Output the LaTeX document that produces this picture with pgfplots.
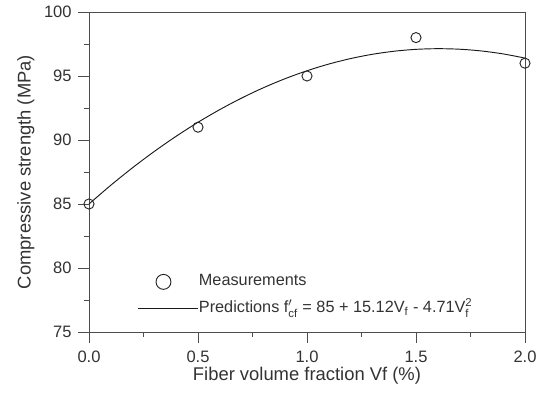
\documentclass[border=0pt]{standalone}
\usepackage{pgfplots}
\pgfplotsset{compat=1.18}
\usepackage{fontspec}
\setmainfont{Liberation Sans}
\setmathrm{Liberation Sans}
\definecolor{txt}{gray}{0.2}
\definecolor{axc}{gray}{0.3}
\pgfplotsset{
  legmark/.style={legend image code/.code={\path (0pt,0pt) (45pt,0pt); \draw[##1, mark size=5.6pt] plot coordinates {(18.75pt,0pt)};}},
  legline/.style={legend image code/.code={\draw[##1] (0pt,0pt) -- (45pt,0pt);}},
}
\begin{document}
\begin{tikzpicture}
\begin{axis}[
  scale only axis,
  width=327pt, height=240pt,
  xmin=0, xmax=2, ymin=75, ymax=100,
  xtick={0,0.5,1,1.5,2},
  ytick={75,80,85,90,95,100},
  minor x tick num=1, minor y tick num=1,
  xticklabels={0.0,0.5,1.0,1.5,2.0},
  tick align=outside, tick pos=left,
  major tick length=8pt, minor tick length=3.5pt,
  axis line style={axc, line width=0.7pt},
  every tick/.style={axc, line width=0.7pt},
  /pgf/number format/assume math mode=true,
  tick label style={font=\fontsize{12.4}{14}\selectfont, text=txt},
  xticklabel style={yshift=-2.5pt},
  yticklabel style={xshift=-1.5pt},
  label style={font=\fontsize{13.8}{16}\selectfont, text=txt},
  xlabel={Fiber volume fraction Vf (\%)},
  ylabel={Compressive strength (MPa)},
  xlabel style={at={(axis description cs:0.5,-0.1375)}, anchor=center},
  ylabel style={at={(axis description cs:-0.145,0.5)}, anchor=center, rotate=0},
  legend style={draw=none, fill=none, at={(rel axis cs:0.1124,0.115)}, anchor=west,
    inner sep=0pt, outer sep=0pt, row sep=6pt, column sep=0pt,
    font=\fontsize{12.2}{14}\selectfont, text=txt,
    nodes={inner ysep=1pt, inner xsep=0pt, text height=9pt, text depth=3pt}},
  legend cell align=left,
]
\addplot[only marks, mark=o, mark size=3.8pt, mark options={line width=0.7pt, black!85}, legmark]
  coordinates {(0,85) (0.5,91) (1.0,95) (1.5,98) (2.0,96)};
\addlegendentry{Measurements}
\addplot[black!90, line width=0.7pt, smooth, no marks, legline]
  coordinates {(0,85) (0.1,86.465) (0.2,87.836) (0.3,89.112) (0.4,90.294) (0.5,91.383)
  (0.6,92.376) (0.7,93.276) (0.8,94.082) (0.9,94.793) (1.0,95.41) (1.1,95.933)
  (1.2,96.362) (1.3,96.696) (1.4,96.936) (1.5,97.083) (1.6,97.134) (1.7,97.092)
  (1.8,96.956) (1.9,96.725) (2.0,96.4)};
\addlegendentry{Predictions f$'_{\mathrm{cf}}$ = 85 + 15.12V$_{\mathrm{f}}$ - 4.71V$_{\mathrm{f}}^{\mathrm{2}}$}
\end{axis}
\pgfresetboundingbox
\useasboundingbox ([xshift=-66.75pt,yshift=-48pt]current axis.south west) rectangle ([xshift=13.5pt,yshift=9pt]current axis.north east);
\end{tikzpicture}
\end{document}
